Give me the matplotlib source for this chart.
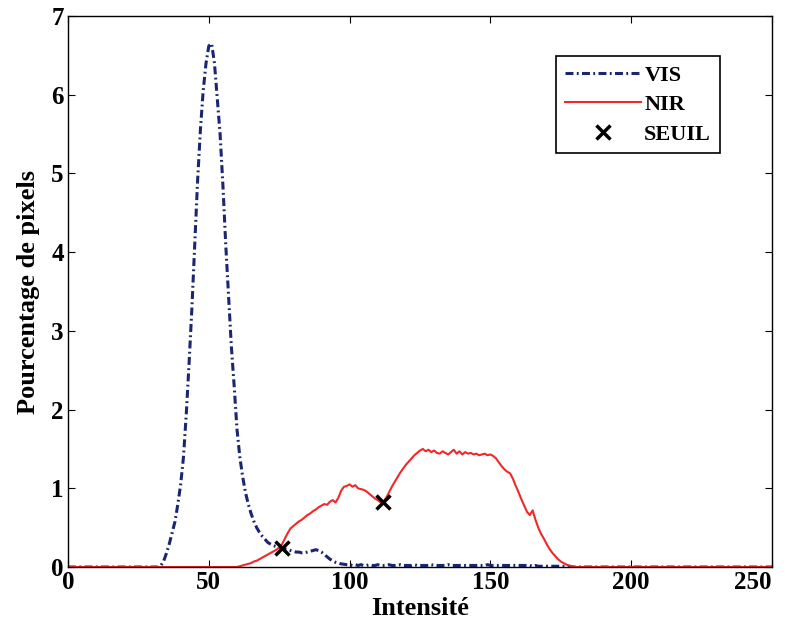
import matplotlib.pyplot as plt
import numpy as np

plt.rcParams['font.family'] = ['Liberation Serif', 'DejaVu Serif']
plt.rcParams['font.weight'] = 'bold'

# Histogram of intensities (percentage of pixels per grey level 0..250)
intensity = np.arange(0, 251)

vis = ([0.0] * 33 +
       [0.02, 0.08, 0.18, 0.30, 0.44, 0.58, 0.80, 1.05, 1.40, 1.95,   # 33-42
        2.60, 3.30, 4.10, 4.90, 5.55, 6.05, 6.40, 6.62, 6.65, 6.40,   # 43-52
        5.95, 5.50, 4.85, 4.10, 3.45, 2.80, 2.30, 1.75, 1.40, 1.15,   # 53-62
        0.95, 0.80, 0.68, 0.58, 0.50, 0.44, 0.39, 0.35, 0.31, 0.29,   # 63-72
        0.27, 0.26, 0.25, 0.24, 0.23, 0.22, 0.21, 0.20, 0.19, 0.19,   # 73-82
        0.18, 0.18, 0.19, 0.20, 0.21, 0.22, 0.21, 0.19, 0.16, 0.13,   # 83-92
        0.10, 0.08, 0.06, 0.05, 0.04, 0.035, 0.03, 0.03, 0.02, 0.03,  # 93-102
        0.02, 0.03, 0.02, 0.02, 0.03, 0.02, 0.02, 0.03, 0.02, 0.02,   # 103-112
        0.02, 0.03, 0.02, 0.02, 0.02, 0.03, 0.02, 0.02, 0.02, 0.02,   # 113-122
        0.03, 0.02, 0.02, 0.02, 0.02, 0.02, 0.03, 0.02, 0.02, 0.02,   # 123-132
        0.02, 0.02, 0.03, 0.02, 0.02, 0.02, 0.02, 0.02, 0.02, 0.02,   # 133-142
        0.02, 0.02, 0.02, 0.02, 0.02, 0.02, 0.03, 0.02, 0.02, 0.02,   # 143-152
        0.02, 0.02, 0.02, 0.02, 0.02, 0.02, 0.02, 0.02, 0.02, 0.02,   # 153-162
        0.02, 0.02, 0.01, 0.02, 0.01, 0.01, 0.01, 0.01, 0.01, 0.01,   # 163-172
        0.01, 0.01, 0.01, 0.01, 0.01, 0.0, 0.0, 0.0] +                # 173-180
       [0.0] * 70)

nir = ([0.0] * 61 +
       [0.01, 0.02, 0.03, 0.04, 0.05, 0.07, 0.08, 0.10, 0.12,         # 61-69
        0.14, 0.16, 0.18, 0.20, 0.22, 0.25, 0.29, 0.36, 0.43, 0.49,   # 70-79
        0.52, 0.55, 0.58, 0.60, 0.63, 0.66, 0.68, 0.71, 0.73, 0.76,   # 80-89
        0.78, 0.80, 0.79, 0.83, 0.85, 0.82, 0.88, 0.97, 1.02, 1.03,   # 90-99
        1.05, 1.02, 1.04, 1.00, 0.99, 0.98, 0.96, 0.93, 0.90, 0.87,   # 100-109
        0.85, 0.82, 0.83, 0.88, 0.95, 1.02, 1.08, 1.14, 1.20, 1.25,   # 110-119
        1.30, 1.34, 1.38, 1.42, 1.45, 1.48, 1.50, 1.47, 1.49, 1.46,   # 120-129
        1.48, 1.45, 1.44, 1.47, 1.45, 1.43, 1.46, 1.49, 1.44, 1.47,   # 130-139
        1.43, 1.46, 1.44, 1.45, 1.43, 1.44, 1.42, 1.43, 1.44, 1.42,   # 140-149
        1.43, 1.41, 1.38, 1.33, 1.28, 1.24, 1.21, 1.19, 1.12, 1.03,   # 150-159
        0.95, 0.86, 0.78, 0.70, 0.66, 0.72, 0.60, 0.50, 0.42, 0.36,   # 160-169
        0.29, 0.23, 0.18, 0.14, 0.10, 0.07, 0.05, 0.03, 0.02, 0.01] + # 170-179
       [0.0] * 71)

# thresholds
seuil_x = [76, 112]
seuil_y = [0.24, 0.82]

fig = plt.figure(figsize=(7.93, 6.32), dpi=100)
ax = fig.add_axes([0.0858, 0.1028, 0.8877, 0.8719])

ax.plot(intensity, vis, color='#1a2672', lw=2.2, dashes=(2.6, 1.1, 0.6, 1.1),
        label='VIS')
ax.plot(intensity, nir, color='#f02828', lw=1.5, label='NIR')
ax.plot(seuil_x, seuil_y, 'x', color='black', ms=10, mew=2.5, label='SEUIL')

ax.set_xlim(0, 250)
ax.set_ylim(0, 7)
ax.set_xticks([0, 50, 100, 150, 200, 250])
ax.set_yticks([0, 1, 2, 3, 4, 5, 6, 7])
ax.tick_params(direction='in', top=True, right=True, labelsize=18, length=5, pad=3)
ax.get_xticklabels()[-1].set_horizontalalignment('right')
for s in ax.spines.values():
    s.set_linewidth(1.0)

ax.set_xlabel('Intensité', fontsize=19, fontweight='bold', labelpad=2)
ax.set_ylabel('Pourcentage de pixels', fontsize=19, fontweight='bold', labelpad=8)

leg = ax.legend(loc='upper right', bbox_to_anchor=(0.926, 0.927), borderaxespad=0,
                fontsize=16, handlelength=3.4, handletextpad=0.15, labelspacing=0.4,
                fancybox=False, edgecolor='black', framealpha=1, borderpad=0.4)
leg.get_frame().set_linewidth(1.2)

fig.savefig('out.png', dpi=100)
